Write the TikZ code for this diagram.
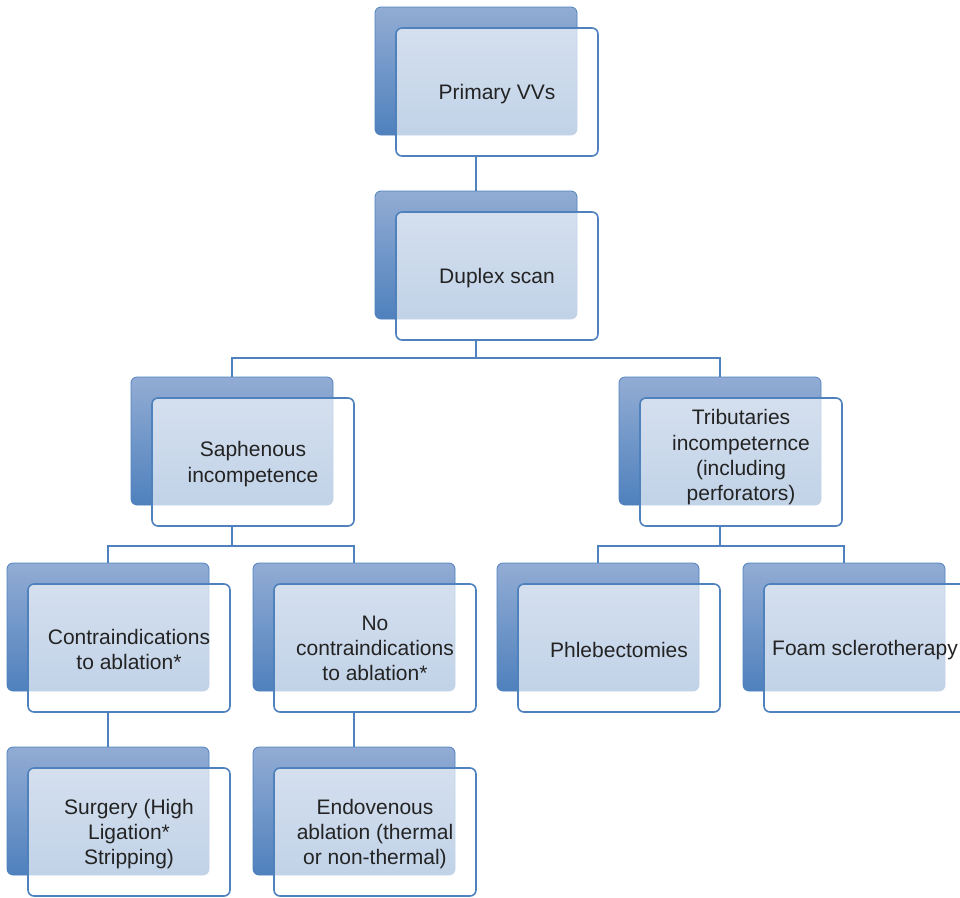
\documentclass[tikz,border=0pt]{standalone}
\usepackage{fontspec}
\setmainfont{Liberation Sans}
\definecolor{bTop}{RGB}{146,172,212}
\definecolor{bBot}{RGB}{79,129,189}
\definecolor{bLine}{RGB}{79,129,189}
\definecolor{txt}{RGB}{35,35,35}
\begin{document}
\begin{tikzpicture}[x=1pt,y=-1pt,
  backbox/.style={rectangle, rounded corners=6pt, minimum width=202pt, minimum height=128pt,
    inner sep=0pt, top color=bTop, bottom color=bBot, draw=bLine, line width=0.8pt},
  frontbox/.style={rectangle, rounded corners=6pt, minimum width=202pt, minimum height=128pt,
    inner sep=0pt, fill=white, fill opacity=0.65, draw=bLine, line width=1.6pt},
  lbl/.style={align=center, font=\fontsize{21}{25.3}\selectfont, text=txt, inner sep=0pt},
  conn/.style={draw=bLine, line width=1.6pt}]
\useasboundingbox (0,0) rectangle (960,897);
% Primary VVs
\node[backbox] (pb) at (476,71) {};
\node[frontbox] (p) at (497,92) {};
\node[lbl] (pt) at ([yshift=-2.5pt]p.center) {Primary VVs};
% Duplex scan
\node[backbox] (db) at (476,255) {};
\node[frontbox] (d) at (497,276) {};
\node[lbl] (dt) at ([yshift=-2.5pt]d.center) {Duplex scan};
% Saphenous
\node[backbox] (sb) at (232,441) {};
\node[frontbox] (s) at (253,462) {};
\node[lbl] (st) at ([yshift=-2pt]s.center) {Saphenous\\incompetence};
% Tributaries
\node[backbox] (tb) at (720,441) {};
\node[frontbox] (t) at (741,462) {};
\node[lbl] (tt) at ([yshift=4.5pt]t.center) {Tributaries\\incompeternce\\(including\\perforators)};
% Contraindications
\node[backbox] (cb) at (108,627) {};
\node[frontbox] (c) at (129,648) {};
\node[lbl] (ct) at ([yshift=-1.5pt]c.center) {Contraindications\\to ablation*};
% No contraindications
\node[backbox] (nb) at (354,627) {};
\node[frontbox] (n) at (375,648) {};
\node[lbl] (nt) at ([yshift=-0.5pt]n.center) {No\\contraindications\\to ablation*};
% Phlebectomies
\node[backbox] (hb) at (598,627) {};
\node[frontbox] (h) at (619,648) {};
\node[lbl] (ht) at ([yshift=-2pt]h.center) {Phlebectomies};
% Foam
\node[backbox] (fb) at (844,627) {};
\node[frontbox] (f) at (865,648) {};
\node[lbl] (ft) at ([yshift=-2pt]f.center) {Foam sclerotherapy};
% Surgery
\node[backbox] (gb) at (108,811) {};
\node[frontbox] (g) at (129,832) {};
\node[lbl] (gt) at ([yshift=-2pt]g.center) {Surgery (High\\Ligation*\\Stripping)};
% Endovenous
\node[backbox] (eb) at (354,811) {};
\node[frontbox] (e) at (375,832) {};
\node[lbl] (et) at ([yshift=-2pt]e.center) {Endovenous\\ablation (thermal\\or non-thermal)};
% connectors
\draw[conn] (p.south -| pb.south) -- (db.north);
\draw[conn] (d.south -| db.south) -- ++(0,17) coordinate (dj);
\draw[conn] (dj) -| (sb.north);
\draw[conn] (dj) -| (tb.north);
\draw[conn] (s.south -| sb.south) -- ++(0,19) coordinate (sj);
\draw[conn] (sj) -| (cb.north);
\draw[conn] (sj) -| (nb.north);
\draw[conn] (t.south -| tb.south) -- ++(0,19) coordinate (tj);
\draw[conn] (tj) -| (hb.north);
\draw[conn] (tj) -| (fb.north);
\draw[conn] (c.south -| cb.south) -- (gb.north);
\draw[conn] (n.south -| nb.south) -- (eb.north);
\end{tikzpicture}
\end{document}
